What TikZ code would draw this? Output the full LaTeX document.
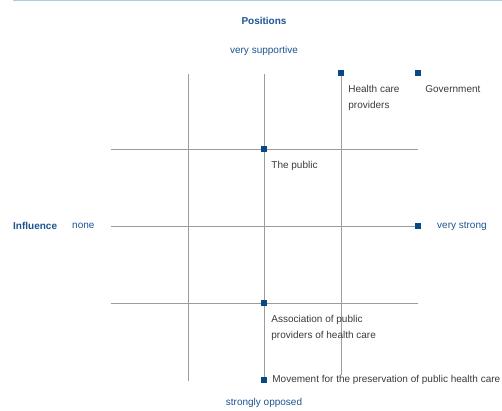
\documentclass[tikz,border=0pt]{standalone}
\usepackage{fontspec}
\setmainfont{Liberation Sans}
\usetikzlibrary{positioning}

\definecolor{axisblue}{HTML}{1C5490}
\definecolor{markblue}{HTML}{0A4884}
\definecolor{gridgrey}{HTML}{9C9C9C}
\definecolor{rulecol}{HTML}{A8CDE4}
\definecolor{labelgrey}{HTML}{3A3A3A}

\begin{document}
\begin{tikzpicture}[
    x=1pt, y=-1pt,
    node distance=4pt,
    gridline/.style={draw=gridgrey, line width=0.9pt},
    marker/.style={rectangle, fill=markblue, minimum size=6pt, inner sep=0pt},
    scaleend/.style={text=axisblue, font=\fontsize{10}{12}\selectfont, inner sep=0pt},
    heading/.style={text=axisblue, font=\bfseries\fontsize{10}{12}\selectfont, inner sep=0pt},
    actor/.style={text=labelgrey, font=\fontsize{10}{16}\selectfont, align=left, inner sep=0pt}
]
    \useasboundingbox (0,0) rectangle (502,410);

    % Top rule
    \draw[rulecol, line width=1pt] (13,0.5) -- (502,0.5);

    % Axis titles and scale ends
    \node[heading] (positions) at (264,21) {Positions};
    \node[scaleend] (supportive) at (264,51) {very supportive};
    \node[scaleend] (opposed) at (264,403) {strongly opposed};
    \node[heading, anchor=west] (influence) at (13,226) {Influence};
    \node[scaleend, anchor=west] (none) at (72,226) {none};
    \node[scaleend, anchor=west] (strong) at (437,226) {very strong};

    % Grid
    \coordinate (v1top) at (188,74);  \coordinate (v1bot) at (188,381);
    \coordinate (v2top) at (264,74);  \coordinate (v2bot) at (264,380);
    \coordinate (v3top) at (341,74);  \coordinate (v3bot) at (341,375);
    \coordinate (h1l) at (111,149);   \coordinate (h1r) at (418,149);
    \coordinate (h2l) at (111,226);   \coordinate (h2r) at (418,226);
    \coordinate (h3l) at (111,303);   \coordinate (h3r) at (418,303);
    \draw[gridline] (v1top) -- (v1bot);
    \draw[gridline] (v2top) -- (v2bot);
    \draw[gridline] (v3top) -- (v3bot);
    \draw[gridline] (h1l) -- (h1r);
    \draw[gridline] (h2l) -- (h2r);
    \draw[gridline] (h3l) -- (h3r);

    % Actors
    \node[marker] (providers) at (341,73) {};
    \node[marker] (government) at (418,73) {};
    \node[marker] (public) at (264,149) {};
    \node[marker] (strongpt) at (418,226) {};
    \node[marker] (association) at (264,303) {};
    \node[marker] (movement) at (264,380) {};

    \node[actor, below right=9pt and 4pt of providers] (providerslab) {Health care\\providers};
    \node[actor, below right=9pt and 4pt of government] (governmentlab) {Government};
    \node[actor, below right=9pt and 4pt of public] (publiclab) {The public};
    \node[actor, below right=9pt and 4pt of association] (associationlab) {Association of public\\providers of health care};
    \node[actor, right=5pt of movement] (movementlab) {Movement for the preservation of public health care};

\end{tikzpicture}
\end{document}
